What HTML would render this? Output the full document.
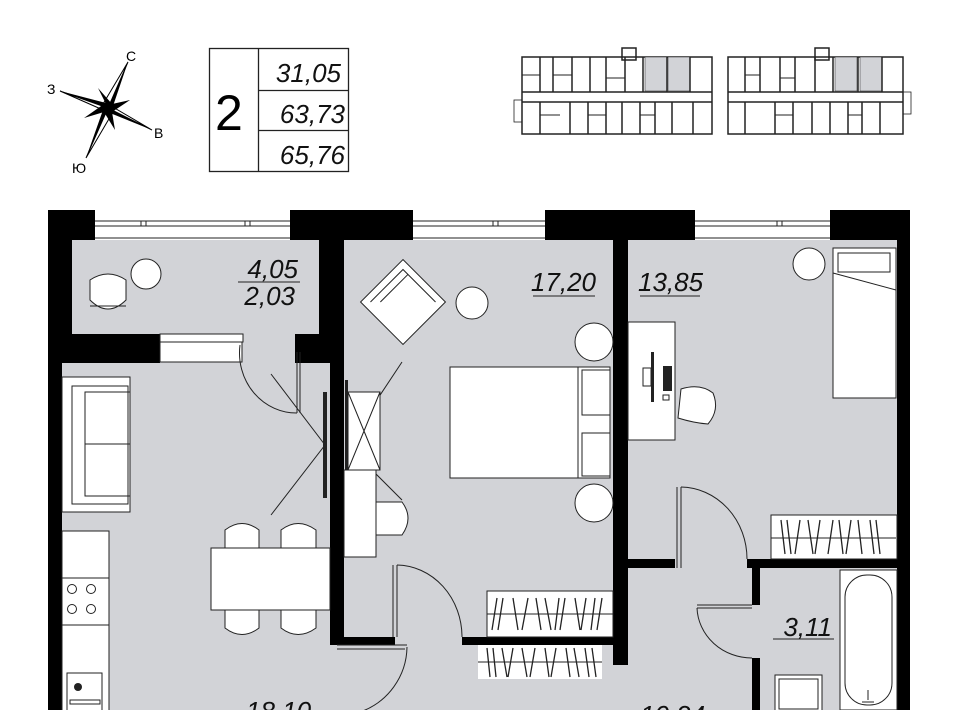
<!DOCTYPE html>
<html><head><meta charset="utf-8"><style>
html,body{margin:0;padding:0;background:#fff;}
svg{display:block;}
.lbl{font-family:"Liberation Sans",sans-serif;font-style:italic;font-size:26px;fill:#111;}
.f{fill:#fff;stroke:#222;stroke-width:1;}
.l{stroke:#222;stroke-width:1;fill:none;}
</style></head><body>
<svg width="960" height="710" viewBox="0 0 960 710" xmlns="http://www.w3.org/2000/svg">
<g>
<polygon points="108,108 128,62 113,106" fill="#000"/>
<polygon points="108,108 128,62 103,104" fill="#fff" stroke="#000" stroke-width="1"/>
<polygon points="108,108 86,158 103,110" fill="#000"/>
<polygon points="108,108 86,158 113,112" fill="#fff" stroke="#000" stroke-width="1"/>
<polygon points="108,108 60,91 106,103" fill="#000"/>
<polygon points="108,108 60,91 110,113" fill="#fff" stroke="#000" stroke-width="1"/>
<polygon points="108,108 152,130 110,113" fill="#000"/>
<polygon points="108,108 152,130 106,103" fill="#fff" stroke="#000" stroke-width="1"/>
<polygon points="108,108 98,88 112,104 130,100 112,112 115,130 104,112 84,118 104,104" fill="#000"/>
<text x="126" y="61" font-family="Liberation Sans,sans-serif" font-size="14">С</text>
<text x="47" y="94" font-family="Liberation Sans,sans-serif" font-size="14">З</text>
<text x="154" y="138" font-family="Liberation Sans,sans-serif" font-size="14">В</text>
<text x="72" y="173" font-family="Liberation Sans,sans-serif" font-size="14">Ю</text>
</g>
<rect x="209.5" y="48.5" width="139" height="123" fill="none" stroke="#222" stroke-width="1.3"/>
<line x1="258.5" y1="48" x2="258.5" y2="172" stroke="#222" stroke-width="1.3"/>
<line x1="258" y1="90.5" x2="349" y2="90.5" stroke="#222" stroke-width="1.3"/>
<line x1="258" y1="130.5" x2="349" y2="130.5" stroke="#222" stroke-width="1.3"/>
<text x="215" y="130" font-family="Liberation Sans,sans-serif" font-size="50">2</text>
<text x="341" y="82" text-anchor="end" class="lbl" font-size="30">31,05</text>
<text x="345" y="123" text-anchor="end" class="lbl" font-size="30">63,73</text>
<text x="345" y="164" text-anchor="end" class="lbl" font-size="30">65,76</text>
<g stroke="#222" fill="none" stroke-width="1.5">
<rect x="522" y="57" width="190" height="77" fill="#fff"/>
<rect x="728" y="57" width="175" height="77" fill="#fff"/>
<rect x="645" y="57" width="22" height="34" fill="#d2d3d7" stroke-width="0.5"/>
<rect x="668" y="57" width="22" height="34" fill="#d2d3d7" stroke-width="0.5"/>
<rect x="835" y="57" width="22" height="34" fill="#d2d3d7" stroke-width="0.5"/>
<rect x="860" y="57" width="22" height="34" fill="#d2d3d7" stroke-width="0.5"/>
<line x1="522" y1="92" x2="712" y2="92"/><line x1="522" y1="102" x2="712" y2="102"/>
<line x1="728" y1="92" x2="903" y2="92"/><line x1="728" y1="102" x2="903" y2="102"/>
<path d="M540 57V92M553 57V92M572 57V92M590 57V92M606 57V92M625 57V92M643 57V92M667 57V92M690 57V92M540 102V134M570 102V134M588 102V134M606 102V134M622 102V134M640 102V134M655 102V134M672 102V134M693 102V134"/>
<path d="M745 57V92M760 57V92M780 57V92M795 57V92M815 57V92M833 57V92M858 57V92M882 57V92M745 102V134M775 102V134M793 102V134M812 102V134M830 102V134M848 102V134M862 102V134M880 102V134"/>
<path d="M522 75H540M553 75H572M606 78H625M745 75H760M780 78H795M540 115H560M588 115H606M640 115H655M775 115H793M848 115H862" stroke-width="1"/>
<rect x="622" y="48" width="14" height="12"/><rect x="815" y="48" width="14" height="12"/>
<rect x="514" y="100" width="8" height="22" stroke-width="0.8"/><rect x="903" y="92" width="8" height="22" stroke-width="0.8"/>
</g>
<rect x="62" y="240" width="835" height="470" fill="#d2d3d7"/>
<rect x="95" y="212" width="198" height="28" fill="#fff"/>
<rect x="413" y="212" width="132" height="28" fill="#fff"/>
<rect x="695" y="212" width="135" height="28" fill="#fff"/>
<g class="l">
<path d="M95 221H293M95 226H293M95 238H293M413 221H545M413 226H545M413 238H545M695 221H830M695 226H830M695 238H830"/>
<rect x="141" y="221" width="5" height="5"/><rect x="245" y="221" width="5" height="5"/>
<rect x="493" y="221" width="5" height="5"/><rect x="777" y="221" width="5" height="5"/>
</g>
<g fill="#000">
<rect x="48" y="210" width="14" height="500"/>
<rect x="48" y="210" width="47" height="30"/>
<rect x="62" y="240" width="10" height="94"/>
<rect x="290" y="210" width="123" height="30"/>
<rect x="319" y="240" width="25" height="123"/>
<rect x="330" y="363" width="14" height="282"/>
<rect x="545" y="210" width="150" height="30"/>
<rect x="613" y="240" width="15" height="425"/>
<rect x="830" y="210" width="80" height="30"/>
<rect x="897" y="210" width="13" height="500"/>
<rect x="62" y="334" width="98" height="29"/>
<rect x="295" y="334" width="35" height="29"/>
<rect x="344" y="637" width="51" height="8"/>
<rect x="462" y="637" width="151" height="8"/>
<rect x="628" y="559" width="47" height="9"/>
<rect x="747" y="559" width="150" height="9"/>
<rect x="752" y="568" width="8" height="37"/>
<rect x="752" y="658" width="8" height="52"/>
</g>
<rect x="72" y="240" width="247" height="94" fill="#d2d3d7"/>
<rect x="160" y="336" width="82" height="26" class="f"/>
<rect x="160" y="334" width="83" height="8" class="f"/>
<circle cx="146" cy="274" r="15" class="f"/>
<path d="M90 280 Q108 268 126 280 L126 300 Q108 318 90 300 Z" class="f"/>
<path d="M90 306 H126" class="l"/>
<path d="M297 352 V413 M300 352 V413" class="l"/>
<path d="M240 345 A57 60 0 0 0 297 413" class="l"/>
<text x="298" y="278" text-anchor="end" class="lbl">4,05</text>
<line x1="238" y1="282" x2="300" y2="282" class="l"/>
<text x="295" y="305" text-anchor="end" class="lbl">2,03</text>
<text x="596" y="291" text-anchor="end" class="lbl">17,20</text>
<line x1="533" y1="296" x2="595" y2="296" class="l"/>
<text x="638" y="291" class="lbl">13,85</text>
<line x1="640" y1="296" x2="700" y2="296" class="l"/>
<text x="832" y="636" text-anchor="end" class="lbl">3,11</text>
<line x1="773" y1="639" x2="834" y2="639" class="l"/>
<text x="246" y="720" class="lbl">18,10</text>
<text x="640" y="724" class="lbl">10,24</text>
<rect x="62" y="377" width="68" height="135" class="f"/>
<rect x="72" y="386" width="56" height="118" class="l"/>
<rect x="85" y="392" width="45" height="52" class="l"/><rect x="85" y="444" width="45" height="52" class="l"/>
<rect x="62" y="531" width="47" height="180" class="f"/>
<line x1="62" y1="578" x2="109" y2="578" class="l"/><line x1="62" y1="625" x2="109" y2="625" class="l"/>
<g class="l"><circle cx="72" cy="589" r="4.5"/><circle cx="91" cy="589" r="4.5"/><circle cx="72" cy="609" r="4.5"/><circle cx="91" cy="609" r="4.5"/></g>
<rect x="67" y="673" width="35" height="40" class="f"/>
<circle cx="78" cy="687" r="4" fill="#222"/>
<rect x="70" y="700" width="30" height="4" class="l"/>
<g class="f">
<path d="M225 548 V530 Q242 517 259 530 V548 Z"/><path d="M281 548 V530 Q298 517 316 530 V548 Z"/>
<path d="M225 610 V628 Q242 641 259 628 V610 Z"/><path d="M281 610 V628 Q298 641 316 628 V610 Z"/>
<rect x="211" y="548" width="119" height="62"/>
</g>
<g class="l">
<path d="M271 374 L325 445 L271 515"/>
<path d="M402 362 L347 445 L402 500"/>
</g>
<rect x="323" y="392" width="4" height="106" fill="#222"/>
<rect x="345" y="380" width="3" height="95" fill="#222"/>
<rect x="348" y="392" width="32" height="78" class="f"/>
<path d="M348 392 L380 470 M380 392 L348 470" class="l"/>
<rect x="344" y="470" width="32" height="87" class="f"/>
<path d="M376 502 H402 Q414 518 402 535 H376 Z" class="f"/>
<g transform="rotate(-45 403 302)">
<rect x="373" y="272" width="60" height="60" class="f"/>
<path d="M380 279 H426 V325 M387 286 H426" class="l"/>
</g>
<circle cx="472" cy="303" r="16" class="f"/>
<circle cx="594" cy="342" r="19" class="f"/>
<circle cx="594" cy="503" r="19" class="f"/>
<rect x="450" y="367" width="160" height="111" class="f"/>
<rect x="582" y="370" width="28" height="45" class="f"/><rect x="582" y="433" width="28" height="43" class="f"/>
<line x1="578" y1="367" x2="578" y2="478" class="l"/>
<path d="M393 565 V637 M397 565 V637" class="l"/>
<path d="M397 565 A66 72 0 0 1 462 637" class="l"/>
<rect x="487" y="591" width="126" height="46" class="f"/>
<line x1="487" y1="614" x2="613" y2="614" class="l"/>
<path d="M497 598 L492 630 M503 598 L498 630 M513 598 L518 630 M528 598 L522 630 M536 598 L541 630 M545 598 L551 630 M559 598 L555 630 M565 598 L560 630 M575 598 L580 630 M586 598 L581 630 M595 598 L591 630 M602 598 L597 630" stroke="#222" stroke-width="1.3"/>
<rect x="478" y="645" width="124" height="34" fill="#fff"/>
<line x1="478" y1="662" x2="602" y2="662" class="l"/>
<path d="M487 648 L490 677 M493 648 L496 677 M502 648 L507 677 M513 648 L508 677 M522 648 L527 677 M535 648 L530 677 M545 648 L549 677 M556 648 L551 677 M566 648 L570 677 M574 648 L579 677 M585 648 L589 677 M592 648 L596 677" stroke="#222" stroke-width="1.3"/>
<path d="M337 645 H407 M337 649 H405" class="l"/>
<path d="M407 647 A70 70 0 0 1 360 712" class="l"/>
<circle cx="809" cy="264" r="16" class="f"/>
<rect x="833" y="248" width="63" height="150" class="f"/>
<rect x="838" y="253" width="52" height="19" class="l"/>
<line x1="833" y1="273" x2="896" y2="290" class="l"/>
<rect x="628" y="322" width="47" height="118" class="f"/>
<rect x="651" y="352" width="3" height="50" fill="#222"/>
<rect x="643" y="368" width="8" height="18" class="l"/>
<rect x="663" y="366" width="9" height="25" fill="#222"/>
<rect x="663" y="395" width="6" height="5" class="l"/>
<path d="M681 389 Q700 383 713 393 Q720 410 708 424 Q694 423 678 418 Z" class="f"/>
<path d="M677 487 V568 M681 487 V568" class="l"/>
<path d="M681 487 A67 72 0 0 1 747 559" class="l"/>
<rect x="771" y="515" width="126" height="44" class="f"/>
<line x1="771" y1="538" x2="896" y2="538" class="l"/>
<path d="M781 520 L785 554 M787 520 L791 554 M800 520 L795 554 M808 520 L813 554 M820 520 L815 554 M833 520 L828 554 M839 520 L843 554 M851 520 L846 554 M858 520 L862 554 M870 520 L874 554 M876 520 L880 554" stroke="#222" stroke-width="1.3"/>
<path d="M697 605 H752 M697 608 H752" class="l"/>
<path d="M697 608 A55 52 0 0 0 752 658" class="l"/>
<rect x="840" y="570" width="57" height="140" class="f"/>
<rect x="845" y="575" width="47" height="130" rx="22" class="l"/>
<path d="M868 690 V700 M862 702 H874" class="l"/>
<rect x="775" y="675" width="47" height="36" class="f"/>
<rect x="779" y="679" width="39" height="30" class="l"/>
</svg>
</body></html>
